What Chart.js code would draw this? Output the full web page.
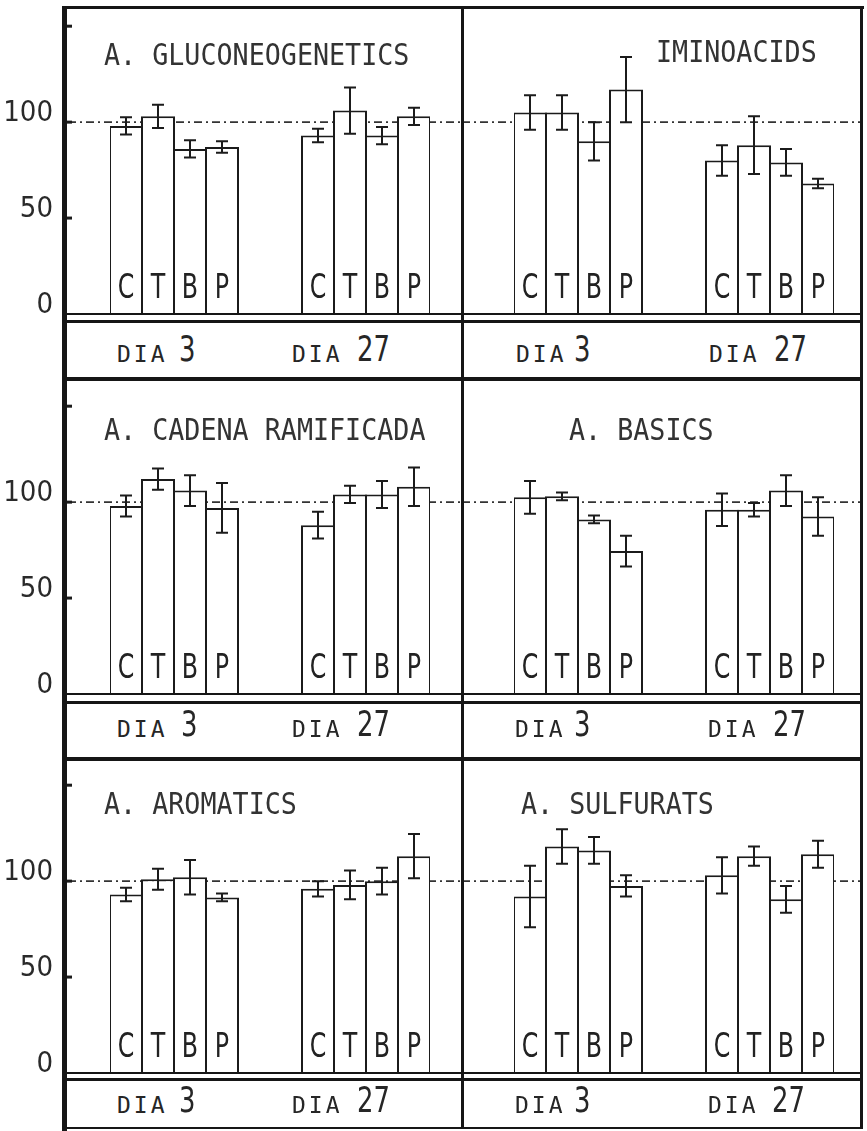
<!DOCTYPE html>
<html>
<head>
<meta charset="utf-8">
<script src="https://cdn.jsdelivr.net/npm/chart.js@4.4.1/dist/chart.umd.min.js"></script>
<style>
  html, body { margin: 0; padding: 0; background: #fff; }
  #fig { position: relative; width: 867px; height: 1131px; overflow: hidden; background: #fff; }
  canvas { position: absolute; }
  .ln { position: absolute; background: #161616; z-index: 2; }
  .t { position: absolute; white-space: nowrap; color: #262626; line-height: 1; z-index: 3; }
  .title { font-family: 'DejaVu Sans Mono', monospace; font-size: 30px; transform: scaleX(0.89); transform-origin: 0 0; color: #333; }
  .dia { font-family: 'DejaVu Sans Mono', monospace; font-size: 23px; letter-spacing: 3px; }
  .num { font-family: 'Liberation Sans Narrow', 'DejaVu Sans Condensed', sans-serif; font-size: 36px; transform: scaleX(0.8); transform-origin: 0 0; }
</style>
</head>
<body>
<div id="fig"></div>
<script>
// categories (two empty slots = gap between the two days)
const barLabels = ['C', 'T', 'B', 'P', '', '', 'C', 'T', 'B', 'P'];
const yTickValues = [0, 50, 100, 150];
const yTickLabels = ['0', '50', '100', ''];
const referenceLevel = 100;
const dayNames = ['3', '27'];

// values: dia 3 (C T B P), dia 27 (C T B P)
const gluconeoMean = [98, 103, 86, 87, 93, 106, 93, 103];
const gluconeoErr = [4.5, 6, 4.5, 3, 3.5, 12, 4.5, 4.5];
const iminoMean = [105, 105, 90, 117, 80, 88, 79, 68];
const iminoErr = [9, 9, 10, 17, 8, 15, 7, 2.5];
const cadenaMean = [98, 112, 106, 97, 88, 104, 104, 108];
const cadenaErr = [5.5, 5.5, 8, 13, 7, 4.5, 7, 10];
const basicsMean = [102.5, 103, 91, 74.5, 96, 96, 106, 92.5];
const basicsErr = [8.5, 2, 2, 8, 8.5, 3.5, 8, 10];
const aromaMean = [93, 101, 102, 91.5, 96, 98, 100, 113];
const aromaErr = [3.5, 5.5, 9, 2, 4, 7.5, 7, 11.5];
const sulfMean = [92, 118, 116, 97.5, 103, 113, 90.5, 114];
const sulfErr = [16, 9, 7, 5.5, 9.5, 5, 7, 7];

const titles = ['A. GLUCONEOGENETICS', 'IMINOACIDS', 'A. CADENA RAMIFICADA', 'A. BASICS', 'A. AROMATICS', 'A. SULFURATS'];

const narrow = "'Liberation Sans Narrow', 'DejaVu Sans Condensed', sans-serif";
const ink = '#1b1b1b';
const fig = document.getElementById('fig');

// put the gap in the middle of a series
let withGap = (arr) => [arr[0], arr[1], arr[2], arr[3], null, null, arr[4], arr[5], arr[6], arr[7]];

const panelDecor = {
    id: 'panelDecor',
    beforeDatasetsDraw(chart, args, opts) {
        const ctx = chart.ctx;
        const y = chart.scales.y.getPixelForValue(referenceLevel);
        ctx.save();
        ctx.setLineDash([8, 4, 2, 4]);
        ctx.lineWidth = 1.6;
        ctx.strokeStyle = '#333';
        ctx.beginPath();
        ctx.moveTo(opts.lineFrom, y);
        ctx.lineTo(chart.width, y);
        ctx.stroke();
        ctx.restore();
    },
    afterDatasetsDraw(chart) {
        const ctx = chart.ctx;
        const ds = chart.data.datasets[0];
        const yS = chart.scales.y;
        const xS = chart.scales.x;
        ctx.save();
        ctx.strokeStyle = ink;
        ctx.lineWidth = 2;
        ds.data.forEach((v, i) => {
            if (v === null) return;
            const e = ds.errors[i];
            const x = xS.getPixelForValue(i);
            const y1 = yS.getPixelForValue(v + e);
            const y2 = yS.getPixelForValue(v - e);
            ctx.beginPath();
            ctx.moveTo(x, y1); ctx.lineTo(x, y2);
            ctx.moveTo(x - 6, y1); ctx.lineTo(x + 6, y1);
            ctx.moveTo(x - 6, y2); ctx.lineTo(x + 6, y2);
            ctx.stroke();
        });
        // letters inside the bars
        ctx.fillStyle = '#222';
        ctx.font = '33px ' + narrow;
        ctx.textAlign = 'center';
        ctx.textBaseline = 'alphabetic';
        barLabels.forEach((lab, i) => {
            if (!lab) return;
            ctx.save();
            ctx.translate(xS.getPixelForValue(i), chart.chartArea.bottom - 16);
            ctx.scale(0.8, 1);
            ctx.fillText(lab, 0, 0);
            ctx.restore();
        });
        ctx.restore();
    },
    afterDraw(chart, args, opts) {
        if (!opts.axisMarks) return;
        const ctx = chart.ctx;
        const yS = chart.scales.y;
        ctx.save();
        ctx.strokeStyle = ink;
        ctx.lineWidth = 3;
        yTickValues.forEach(v => {
            if (v === 0) return;
            const y = yS.getPixelForValue(v);
            ctx.beginPath();
            ctx.moveTo(64, y); ctx.lineTo(72, y);
            ctx.stroke();
        });
        ctx.restore();
    }
};

const rowBase = [314, 694, 1073];
const plotH = 307;

function addPanel(mean, err, side, row) {
    const isLeft = side === 'L';
    const canvas = document.createElement('canvas');
    const w = isLeft ? 462 : 400;
    canvas.width = w;
    canvas.height = plotH;
    canvas.style.left = (isLeft ? 0 : 462) + 'px';
    canvas.style.top = (rowBase[row] - plotH) + 'px';
    canvas.style.width = w + 'px';
    canvas.style.height = plotH + 'px';
    fig.appendChild(canvas);

    new Chart(canvas, {
        type: 'bar',
        data: {
            labels: barLabels,
            datasets: [{
                data: withGap(mean),
                errors: withGap(err),
                backgroundColor: '#fff',
                borderColor: ink,
                borderWidth: 2,
                barPercentage: 1.0625,
                categoryPercentage: 1
            }]
        },
        options: {
            responsive: false,
            animation: false,
            devicePixelRatio: 1,
            layout: { padding: isLeft ? { left: 0, right: 32, top: 0, bottom: 0 } : { left: 52, right: 28, top: 0, bottom: 0 } },
            plugins: {
                legend: { display: false },
                tooltip: { enabled: false },
                panelDecor: { lineFrom: isLeft ? 68 : 0, axisMarks: isLeft }
            },
            scales: {
                x: { display: false },
                y: {
                    display: isLeft,
                    min: 0,
                    max: 160,
                    afterFit: (s) => { s.width = isLeft ? 110 : 0; s.paddingTop = 0; s.paddingBottom = 0; },
                    grid: { display: false, drawTicks: false },
                    border: { display: false },
                    ticks: {
                        stepSize: 50,
                        padding: 57,
                        color: '#2a2a2a',
                        font: { family: narrow, size: 29, lineHeight: '18px' },
                        callback: (v) => [yTickLabels[yTickValues.indexOf(v)] || '', '']
                    }
                }
            }
        },
        plugins: [panelDecor]
    });
}

addPanel(gluconeoMean, gluconeoErr, 'L', 0);
addPanel(iminoMean, iminoErr, 'R', 0);
addPanel(cadenaMean, cadenaErr, 'L', 1);
addPanel(basicsMean, basicsErr, 'R', 1);
addPanel(aromaMean, aromaErr, 'L', 2);
addPanel(sulfMean, sulfErr, 'R', 2);

// frame lines
function line(l, t, w, h) {
    const d = document.createElement('div');
    d.className = 'ln';
    d.style.cssText = `left:${l}px;top:${t}px;width:${w}px;height:${h}px`;
    fig.appendChild(d);
}
line(62, 6, 5, 1125);     // left axis
line(62, 6, 802, 3);      // top
line(860, 6, 3, 1122);    // right
line(461, 6, 3, 1122);    // middle
line(62, 377, 801, 4);
line(62, 757, 801, 4);
line(62, 1127, 801, 2);
// double base lines
line(66, 313, 796, 2); line(66, 320, 796, 3);
line(66, 693, 796, 2); line(66, 701, 796, 3);
line(66, 1072, 796, 2); line(66, 1078, 796, 3);

function text(cls, str, l, t) {
    const d = document.createElement('div');
    d.className = 't ' + cls;
    d.textContent = str;
    d.style.left = l + 'px';
    d.style.top = t + 'px';
    fig.appendChild(d);
}

const titlePos = [[104, 40], [656, 37], [104, 415], [569, 415], [104, 789], [521, 789]];
titles.forEach((s, i) => text('title', s, titlePos[i][0], titlePos[i][1]));

// day labels: [dia x, number x] for each group, per panel
const diaRowTop = [343, 718, 1094];
const numRowTop = [331, 706, 1082];
const diaX = [[117, 179, 292, 357], [516, 574, 709, 774], [117, 181, 292, 357], [515, 574, 708, 773], [117, 179, 292, 357], [515, 574, 708, 772]];
diaX.forEach((p, i) => {
    const row = Math.floor(i / 2);
    text('dia', 'DIA', p[0], diaRowTop[row]);
    text('num', dayNames[0], p[1], numRowTop[row]);
    text('dia', 'DIA', p[2], diaRowTop[row]);
    text('num', dayNames[1], p[3], numRowTop[row]);
});
</script>
</body>
</html>
